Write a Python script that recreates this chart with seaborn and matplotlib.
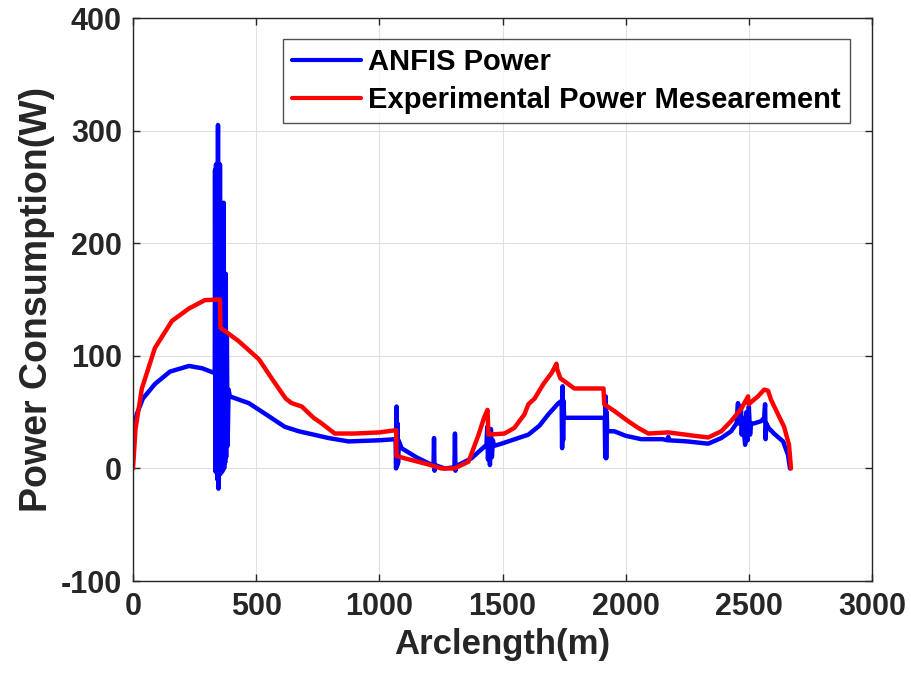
import numpy as np
import pandas as pd
import seaborn as sns
import matplotlib
matplotlib.use("Agg")
import matplotlib.pyplot as plt

# ANFIS power (blue), spikes kept as point pairs
anfis_x = [0, 15, 40, 89, 150, 227, 280, 328,
           332, 333, 335, 337, 339, 341, 343, 345, 347, 349, 351, 353, 355, 357,
           360, 362, 364, 366, 368, 370, 372, 374, 376, 378, 381, 384, 388, 393,
           470, 540, 616, 673, 794, 875, 1000, 1062,
           1066, 1068, 1070, 1072, 1074, 1076, 1078, 1090, 1150, 1200,
           1220, 1222, 1224, 1226, 1265, 1305, 1307, 1309, 1311, 1374, 1420, 1435,
           1438, 1441, 1445, 1449, 1453, 1457, 1461, 1465, 1496, 1550, 1605, 1650,
           1686, 1727, 1740, 1742, 1744, 1746, 1748, 1750, 1800, 1850, 1915,
           1917, 1919, 1921, 1923, 1925, 1954, 2000, 2063, 2150, 2170, 2173, 2176,
           2250, 2335, 2388, 2428, 2450, 2456, 2458, 2468, 2471, 2475, 2485, 2490,
           2495, 2500, 2505, 2509, 2521, 2550, 2562, 2566, 2568, 2571, 2580, 2602,
           2639, 2659, 2667]
anfis_y = [30, 48, 62, 75, 86, 91, 89, 85,
           85, 265, -3, 270, 5, 200, -10, 305, -18, 240, 0, 270, -5, 120,
           60, -3, 100, 20, 236, 0, 150, 5, 173, 10, 120, 20, 70, 64,
           58, 48, 37, 33, 27, 24, 25, 26,
           26, 0, 55, 2, 40, 5, 25, 18, 10, 4.5,
           3, 27, -2, 3, 0, 1, 31, -2, 2, 9, 18, 21,
           37, 8, 30, 3, 35, 10, 25, 20, 22, 26, 30, 38,
           48, 58, 60, 18, 73, 25, 60, 45, 45, 45, 45,
           10, 64, 9, 50, 33, 33, 29, 26, 26, 25, 28, 25,
           24, 22, 27, 33, 40, 58, 40, 55, 30, 45, 21, 50,
           25, 55, 30, 40, 40, 42, 45, 57, 26, 40, 36, 31,
           24, 12, 0]

# Experimental power measurement (red)
exp_x = [0, 10, 36, 89, 158, 227, 292, 353, 355, 429, 511, 563, 620, 644,
         685, 733, 766, 819, 900, 1000, 1068, 1070, 1103, 1200, 1252, 1305,
         1362, 1403, 1425, 1439, 1443, 1508, 1548, 1589, 1605, 1630, 1666,
         1700, 1719, 1722, 1735, 1792, 1910, 1913, 1954, 2010, 2051, 2092,
         2173, 2278, 2335, 2388, 2428, 2469, 2497, 2499, 2537, 2562, 2578,
         2590, 2623, 2643, 2663, 2671]
exp_y = [0, 35, 71, 107, 131, 142, 149.5, 150, 125, 113, 97, 80, 62, 58,
         55, 45, 40, 31, 31, 32, 34, 11, 9, 3.5, 0, 0,
         6, 30, 45, 52, 30, 31, 36, 48, 57, 62, 75,
         85, 93, 88, 80, 71, 71, 57, 51, 42, 36, 31,
         32, 29, 27.5, 33, 42, 53, 64, 57, 64, 70, 69,
         61, 46, 37, 21, 0]

df = pd.concat([
    pd.DataFrame({"x": anfis_x, "y": anfis_y, "series": "ANFIS Power"}),
    pd.DataFrame({"x": exp_x, "y": exp_y, "series": "Experimental Power Mesearement"}),
])

sns.set_theme(style="ticks")
plt.rcParams["font.family"] = ["Liberation Sans", "DejaVu Sans"]
plt.rcParams["font.weight"] = "bold"
plt.rcParams["axes.unicode_minus"] = False

fig = plt.figure(figsize=(9.11, 6.86), dpi=100)
ax = fig.add_axes([0.1460, 0.1530, 0.8112, 0.8207])

sns.lineplot(data=df, x="x", y="y", hue="series",
             palette={"ANFIS Power": "#0000ff",
                      "Experimental Power Mesearement": "#ff0000"},
             estimator=None, sort=False, linewidth=3.2, ax=ax)

ax.set_xlim(0, 3000)
ax.set_ylim(-100, 400)
ax.set_xticks(np.arange(0, 3001, 500))
ax.set_yticks(np.arange(-100, 401, 100))
ax.grid(True, color="#e0e0e0", linewidth=0.8)
ax.set_axisbelow(True)
ax.tick_params(direction="in", top=True, right=True, length=5, pad=8,
               labelsize=22, colors="#262626", width=1)
for lbl in ax.get_xticklabels() + ax.get_yticklabels():
    lbl.set_fontweight("bold")
for sp in ax.spines.values():
    sp.set_color("#262626")
    sp.set_linewidth(1)

ax.set_xlabel("Arclength(m)", fontsize=25, fontweight="bold", color="#262626", labelpad=4)
ax.set_ylabel("Power Consumption(W)", fontsize=27, fontweight="bold", color="#262626", labelpad=4)

leg = ax.legend(loc="upper right", bbox_to_anchor=(0.970, 0.963),
                frameon=True, fancybox=False, handlelength=2.35, handletextpad=0.25,
                borderpad=0.32, labelspacing=0.34, borderaxespad=0,
                prop={"weight": "bold", "size": 21})
leg.get_frame().set_edgecolor("#262626")
leg.get_frame().set_linewidth(1)
for line in leg.get_lines():
    line.set_linewidth(3)
for txt in leg.get_texts():
    txt.set_color("black")

fig.savefig("out.png", dpi=100)
